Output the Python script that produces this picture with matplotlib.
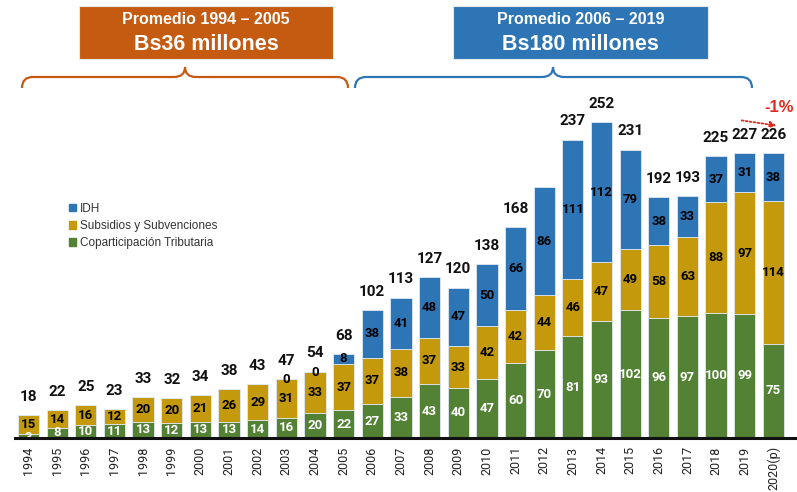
import matplotlib.pyplot as plt
from matplotlib.path import Path
from matplotlib.patches import PathPatch, Rectangle, Patch

# ==========================================
# DATA
# ==========================================
years = ["1994", "1995", "1996", "1997", "1998", "1999", "2000", "2001", "2002",
         "2003", "2004", "2005", "2006", "2007", "2008", "2009", "2010", "2011",
         "2012", "2013", "2014", "2015", "2016", "2017", "2018", "2019", "2020(p)"]
copart = [3, 8, 10, 11, 13, 12, 13, 13, 14, 16, 20, 22, 27, 33, 43, 40, 47, 60,
          70, 81, 93, 102, 96, 97, 100, 99, 75]
subsidios = [15, 14, 16, 12, 20, 20, 21, 26, 29, 31, 33, 37, 37, 38, 37, 33, 42, 42,
             44, 46, 47, 49, 58, 63, 88, 97, 114]
idh = [0, 0, 0, 0, 0, 0, 0, 0, 0, 0, 0, 8, 38, 41, 48, 47, 50, 66,
       86, 111, 112, 79, 38, 33, 37, 31, 38]
# IDH labels only shown from 2003 onwards
idh_shown = [False] * 9 + [True] * 18
totals = [18, 22, 25, 23, 33, 32, 34, 38, 43, 47, 54, 68, 102, 113, 127, 120, 138, 168,
          None, 237, 252, 231, 192, 193, 225, 227, 226]

C_GREEN = "#548235"
C_GOLD = "#C49A0C"
C_BLUE = "#2E75B6"
C_ORANGE = "#C55A11"
C_RED = "#E8281C"

W, H = 797, 492
fig = plt.figure(figsize=(W / 100, H / 100), dpi=100)

# axes placed in pixel terms: baseline at y=438px, 1.254 px per unit
ax = fig.add_axes([15 / W, (H - 438) / H, (W - 15) / W, 438 / H])
px_per_unit_x = 28.65
x0 = -(28.5 - 15) / px_per_unit_x
ax.set_xlim(x0, x0 + (W - 15) / px_per_unit_x)
ax.set_ylim(0, 438 / 1.254)

x = list(range(len(years)))
bw = 0.74
edge = "#dfe8f3"
ax.bar(x, copart, bw, color=C_GREEN, edgecolor=edge, linewidth=0.6)
ax.bar(x, subsidios, bw, bottom=copart, color=C_GOLD, edgecolor=edge, linewidth=0.6)
base2 = [c + s for c, s in zip(copart, subsidios)]
ax.bar(x, idh, bw, bottom=base2, color=C_BLUE, edgecolor=edge, linewidth=0.6)

num_font = "Roboto"
for i in x:
    yg = copart[i] / 2 if copart[i] > 5 else 0.3
    ax.text(i, yg, str(copart[i]), ha="center", va="center",
            color="white", fontsize=9.5, fontweight="bold", family=num_font)
    ax.text(i, copart[i] + subsidios[i] / 2, str(subsidios[i]), ha="center", va="center",
            color="black", fontsize=9.5, fontweight="bold", family=num_font)
    if idh_shown[i]:
        yv = base2[i] + idh[i] / 2 if idh[i] > 0 else base2[i] - 0.5
        ax.text(i, yv, str(idh[i]), ha="center", va="center",
                color="black", fontsize=9.5, fontweight="bold", family=num_font)
    if totals[i] is not None:
        ax.annotate(str(totals[i]), (i, base2[i] + idh[i]), xytext=(0, 8),
                    textcoords="offset points", ha="center", va="bottom",
                    fontsize=11, fontweight="bold", family=num_font, color="#111111")

# axis styling
for s in ["top", "right", "left"]:
    ax.spines[s].set_visible(False)
ax.spines["bottom"].set_linewidth(2.2)
ax.spines["bottom"].set_color("#111111")
ax.spines["bottom"].set_zorder(5)
ax.set_yticks([])
ax.set_xticks(x)
ax.set_xticklabels(years, rotation=90, fontsize=9, family=num_font, color="#222222")
ax.tick_params(axis="x", length=0, pad=6)

# legend
handles = [Patch(color=C_BLUE, label="IDH"),
           Patch(color=C_GOLD, label="Subsidios y Subvenciones"),
           Patch(color=C_GREEN, label="Coparticipación Tributaria")]
leg = fig.legend(handles=handles, loc="upper left", bbox_to_anchor=(64 / W, 1 - 198 / H),
                 frameon=False, handlelength=0.6, handleheight=0.6,
                 handletextpad=0.35, labelspacing=0.45, borderaxespad=0,
                 prop={"family": "Liberation Sans", "size": 8.5})
for t in leg.get_texts():
    t.set_color("#333333")

# -1% arrow
ax.annotate("", xy=(26.2, (438 - 126) / 1.254), xytext=(24.8, (438 - 120) / 1.254),
            arrowprops=dict(arrowstyle="-|>", color=C_RED, linestyle=(0, (1, 1.2)),
                            lw=1.3, mutation_scale=9))
ax.text(26.2, (438 - 107) / 1.254, "-1%", ha="center", va="center", color=C_RED,
        fontsize=12, fontweight="bold", family="Liberation Sans")


# ==========================================
# HEADER BOXES AND BRACES (pixel coords)
# ==========================================
def fx(px):
    return px / W


def fy(py):
    return 1 - py / H


def header_box(xl, xr, color, line1, line2):
    fig.patches.append(Rectangle((fx(xl), fy(59)), fx(xr - xl), 53 / H,
                                 transform=fig.transFigure, facecolor=color,
                                 edgecolor="#e8e8e8", linewidth=0.8))
    xc = fx((xl + xr) / 2)
    fig.text(xc, fy(20), line1, ha="center", va="center", color="white",
             fontsize=11.5, fontweight="bold", family="Liberation Sans")
    fig.text(xc, fy(45), line2, ha="center", va="center", color="white",
             fontsize=15.5, fontweight="bold", family="Liberation Sans")


def brace(xl, xr, xm, color):
    ytop, ymid, ybot, r = 67, 77, 88, 11
    verts = [(xl, ybot), (xl, ymid), (xl + r, ymid),
             (xm - r, ymid), (xm, ymid), (xm, ytop),
             (xm, ymid), (xm + r, ymid),
             (xr - r, ymid), (xr, ymid), (xr, ybot)]
    codes = [Path.MOVETO, Path.CURVE3, Path.CURVE3,
             Path.LINETO, Path.CURVE3, Path.CURVE3,
             Path.CURVE3, Path.CURVE3,
             Path.LINETO, Path.CURVE3, Path.CURVE3]
    verts = [(fx(a), fy(b)) for a, b in verts]
    fig.patches.append(PathPatch(Path(verts, codes), transform=fig.transFigure,
                                 facecolor="none", edgecolor=color, lw=1.6))


header_box(79, 333, C_ORANGE, "Promedio 1994 – 2005", "Bs36 millones")
header_box(453, 708, C_BLUE, "Promedio 2006 – 2019", "Bs180 millones")
brace(22, 348, 185, C_ORANGE)
brace(355, 752, 553, C_BLUE)

fig.savefig("out.png", dpi=100)
